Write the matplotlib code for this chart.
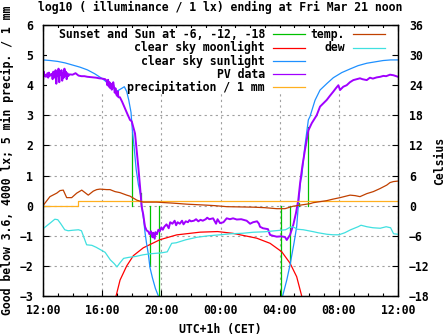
import numpy as np
import matplotlib
matplotlib.use("Agg")
import matplotlib.pyplot as plt
from matplotlib.patches import Rectangle

# hours after 12:00 (Fri Mar 20 noon -> Mar 21 noon)
tick_hours = [0, 4, 8, 12, 16, 20, 24]
tick_labels = ["12:00", "16:00", "20:00", "00:00", "04:00", "08:00", "12:00"]

# Sunset and Sun at -6, -12, -18 (line from 0 up/down to clear-sky value)
twilight_h = [6.04, 6.60, 7.23, 7.86, 16.09, 16.72, 17.34, 17.94]
twilight_v = [2.45, 0.42, -2.0, -3.5, -3.5, -1.9, 0.1, 2.6]

moon_h = [4.94, 5.21, 5.66, 6.11, 6.78, 7.91, 9.04, 10.62, 11.8, 12.85, 14.45,
          15.35, 16.14, 16.7, 17.15, 17.49, 17.6]
moon_v = [-3.0, -2.47, -2.0, -1.66, -1.4, -1.13, -0.97, -0.88, -0.86, -0.92, -1.08,
          -1.25, -1.53, -1.91, -2.36, -3.0, -3.3]

sun_h = [0, 0.5, 1, 1.5, 2, 2.5, 3, 3.5, 4, 4.5, 5, 5.5, 5.66, 5.8, 5.95, 6.04, 6.15,
         6.3, 6.45, 6.6, 6.67, 6.8, 6.9, 7.0, 7.12, 7.23, 7.4, 7.6, 7.8, 8.0,
         np.nan,
         16.0, 16.2, 16.48, 16.7, 16.97, 17.15, 17.26, 17.42, 17.49, 17.7, 17.94,
         18.05, 18.39, 18.73, 19.2, 19.63, 20.2, 20.76, 21.3, 21.89, 22.5, 23, 23.5, 24]
sun_v = [4.84, 4.82, 4.79, 4.74, 4.67, 4.6, 4.51, 4.38, 4.22, 4.03, 3.8, 3.95, 3.79,
         3.5, 3.1, 2.5, 2.0, 1.2, 0.7, 0.35, 0.0, -0.45, -0.9, -1.25, -1.6, -2.05, -2.4,
         -2.75, -3.0, -3.3,
         np.nan,
         -3.4, -3.0, -2.47, -1.97, -1.24, -0.7, 0.0, 0.85, 0.96, 1.96, 2.85,
         2.96, 3.5, 3.84, 4.06, 4.25, 4.42, 4.54, 4.65, 4.73, 4.78, 4.82, 4.84, 4.84]

pv_h = [0.0, 0.05, 0.1, 0.15, 0.2, 0.3, 0.35, 0.4, 0.45, 0.5, 0.6, 0.65, 0.7, 0.75,
        0.8, 0.85, 0.9, 0.95, 1.0, 1.05, 1.1, 1.15, 1.2, 1.25, 1.3, 1.35, 1.4, 1.45,
        1.5, 1.55, 1.6, 1.65, 1.7, 1.8, 2.0, 2.2, 2.4, 2.6, 2.8, 3.0, 3.2, 3.4, 3.6,
        3.8, 4.0, 4.2, 4.3, 4.35, 4.4, 4.45, 4.5, 4.55, 4.6, 4.65, 4.7, 4.75, 4.8,
        4.85, 4.9, 4.95, 5.0, 5.05, 5.1, 5.2, 5.35, 5.54, 5.7, 5.88, 6.0, 6.22,
        6.33, 6.44, 6.56, 6.67, 6.78, 6.85, 6.9, 7.0, 7.12, 7.2, 7.3, 7.4, 7.45,
        7.55, 7.6, 7.7, 7.8, 7.9, 8.0, 8.1, 8.2, 8.35, 8.5, 8.6, 8.75, 8.9, 9.0,
        9.1, 9.25, 9.4, 9.5, 9.65, 9.8, 9.9, 10.0, 10.2, 10.35, 10.5, 10.65, 10.8,
        11.0, 11.1, 11.25, 11.5, 11.7, 11.8, 11.97, 12.2, 12.42, 12.64, 12.85,
        13.1, 13.4, 13.77, 14.0, 14.2, 14.47, 14.6, 14.67, 14.87, 15.21, 15.35,
        15.55, 15.8, 16.1, 16.36, 16.48, 16.7, 16.92, 17.1, 17.26, 17.38, 17.53,
        17.71, 17.94, 18.17, 18.5, 18.73, 18.95, 19.18, 19.4, 19.63, 19.8, 19.97,
        20.08, 20.3, 20.53, 20.75, 20.98, 21.2, 21.43, 21.6, 21.89, 22.1, 22.3,
        22.56, 22.8, 23.01, 23.2, 23.46, 23.7, 24.0]
pv_v = [4.15, 4.45, 4.3, 4.35, 4.28, 4.4, 4.25, 4.42, 4.3, 4.35, 4.38, 4.2, 4.45, 4.3,
        4.25, 4.5, 4.05, 4.4, 4.3, 4.55, 4.1, 4.45, 4.35, 4.5, 4.15, 4.4, 4.25, 4.55,
        4.3, 4.45, 4.2, 4.4, 4.3, 4.36, 4.35, 4.4, 4.32, 4.3, 4.3, 4.28, 4.27, 4.26,
        4.25, 4.23, 4.22, 4.2, 4.15, 4.0, 4.18, 3.95, 4.1, 3.9, 4.05, 3.85, 4.0,
        4.1, 3.95, 3.75, 3.9, 3.7, 3.65, 3.8, 3.6, 3.6, 3.45, 3.23, 3.05, 2.85, 2.8,
        2.4, 1.85, 1.3, 0.63, -0.03, -0.3, -0.55, -0.7, -0.82, -0.86, -0.95, -0.85,
        -1.05, -0.9, -1.1, -0.88, -0.95, -0.8, -0.85, -0.72, -0.8, -0.7, -0.62,
        -0.75, -0.55, -0.6, -0.5, -0.65, -0.55, -0.6, -0.5, -0.62, -0.52, -0.55,
        -0.48, -0.52, -0.5, -0.45, -0.52, -0.47, -0.5, -0.45, -0.4, -0.45, -0.42,
        -0.6, -0.45, -0.58, -0.55, -0.42, -0.45, -0.42, -0.46, -0.45, -0.5, -0.6,
        -0.55, -0.52, -0.6, -0.7, -0.75, -0.78, -0.97, -1.0, -1.03, -1.02, -1.04,
        -1.14, -0.97, -0.64, -0.25, 0.19, 0.74, 1.3, 1.85, 2.5, 2.74, 3.0, 3.29,
        3.4, 3.51, 3.65, 3.79, 3.9, 4.0, 3.84, 3.95, 4.0, 4.1, 4.17, 4.2, 4.23,
        4.2, 4.17, 4.25, 4.22, 4.26, 4.28, 4.31, 4.3, 4.35, 4.33, 4.28]

precip_h = [0, 2.37, 24]
precip_v = [0, 0.15, 0.15]

temp_h = [0, 0.47, 0.93, 1.15, 1.37, 1.6, 1.94, 2.28, 2.62, 2.84, 3.06, 3.4, 3.63,
          3.85, 4.31, 4.53, 4.87, 5.2, 5.66, 5.88, 6.34, 6.67, 6.78, 7.69, 8.25,
          8.81, 9.72, 11.07, 11.63, 12.42, 14.22, 15.0, 15.8, 16.36, 16.92, 17.38,
          18.05, 18.28, 19.18, 19.6, 20.08, 20.76, 21.1, 21.43, 21.89, 22.33, 22.78,
          23.24, 23.46, 23.69, 24.0]
temp_c = [0.0, 1.8, 2.5, 3.0, 3.1, 1.6, 1.6, 2.5, 3.1, 2.6, 2.1, 2.9, 3.2, 3.3, 3.2,
          3.2, 2.8, 2.6, 2.1, 1.9, 1.1, 0.8, 0.7, 0.7, 0.6, 0.5, 0.3, 0.1, 0.0, -0.2,
          -0.3, -0.4, -0.6, -0.6, -0.1, 0.1, 0.4, 0.6, 1.0, 1.3, 1.6, 2.1, 2.0, 1.8,
          2.4, 2.8, 3.4, 4.1, 4.6, 4.8, 4.9]

dew_h = [0, 0.47, 0.8, 1.0, 1.2, 1.47, 1.7, 2.0, 2.4, 2.6, 2.95, 3.3, 3.6, 3.9, 4.2,
         4.55, 4.8, 5.0, 5.2, 5.45, 5.8, 6.3, 6.75, 7.2, 8.0, 8.4, 8.7, 9.0, 9.65,
         10.4, 11.2, 12.0, 12.7, 13.5, 14.2, 15.0, 15.7, 16.4, 16.7, 16.9, 17.2, 17.6,
         18.3, 18.6, 19.2, 19.6, 20.0, 20.4, 20.8, 21.3, 21.5, 21.9, 22.3, 22.8, 23.2,
         23.5, 23.7, 24.0]
dew_c = [-4.6, -3.5, -2.7, -2.8, -3.6, -4.8, -5.0, -4.9, -4.8, -5.0, -7.8, -7.9, -8.3,
         -8.8, -9.3, -10.8, -11.5, -12.2, -11.4, -10.5, -10.3, -10.1, -9.8, -9.6, -9.4,
         -9.2, -7.5, -7.4, -6.8, -6.3, -6.0, -5.8, -5.6, -5.5, -5.3, -5.2, -5.0, -4.8,
         -4.3, -4.2, -4.7, -4.8, -5.2, -5.4, -5.7, -5.8, -5.8, -5.4, -4.8, -4.2, -3.9,
         -4.2, -4.4, -4.5, -4.2, -4.4, -5.6, -5.7]

plt.rcParams["font.family"] = "DejaVu Sans Mono"
plt.rcParams["font.weight"] = "bold"
plt.rcParams["font.size"] = 8.3
plt.rcParams["axes.titlesize"] = 8.3
plt.rcParams["axes.labelsize"] = 8.3
plt.rcParams["axes.titleweight"] = "bold"
plt.rcParams["axes.labelweight"] = "bold"

GREEN, RED, BLUE, PURPLE = "#00c000", "#ff0000", "#1e90ff", "#a000ff"
ORANGE, TEMP, DEW = "#ffb020", "#c04000", "#40e0e0"

fig = plt.figure(figsize=(4.47, 3.35), dpi=100)
ax = fig.add_axes([43 / 447, 39 / 335, 355 / 447, 271 / 335])
ax.set_xlim(0, 24); ax.set_ylim(-3, 6)
ax.set_axisbelow(True)
ax.grid(True, color="#a0a0a0", linestyle=(0, (2, 3)), linewidth=0.8)
ax.add_patch(Rectangle((0.01, 0.75), 0.98, 0.24, transform=ax.transAxes,
                       facecolor="white", edgecolor="none", zorder=1))

for h, v in zip(twilight_h, twilight_v):
    ax.plot([h, h], [0, v], color=GREEN, lw=0.9, zorder=2)
ax.plot(moon_h, moon_v, color=RED, lw=0.9, zorder=2)
ax.plot(sun_h, sun_v, color=BLUE, lw=0.9, zorder=2)
ax.plot(pv_h, pv_v, color=PURPLE, lw=1.4, zorder=2)
ax.step(precip_h, precip_v, where="post", color=ORANGE, lw=0.9, zorder=2)

ax.set_xticks(tick_hours)
ax.set_xticklabels(tick_labels)
ax.set_xticks(range(25), minor=True)
ax.set_yticks(range(-3, 7))
ax.tick_params(which="both", direction="in", top=True, right=False, length=4, width=0.8)
ax.tick_params(which="minor", length=2)
ax.tick_params(axis="y", pad=7)
ax.tick_params(axis="x", pad=6)
ax.set_xlabel("UTC+1h (CET)", labelpad=4)
ax.set_ylabel("Good below 3.6, 4000 lx; 5 min precip. / 1 mm")
ax.yaxis.set_label_coords(-0.082, 0.5)
ax.set_title("log10 ( illuminance / 1 lx) ending at Fri Mar 21 noon", pad=10)

ax2 = ax.twinx()
ax2.set_ylim(-18, 36)
ax2.set_yticks(range(-18, 37, 6))
ax2.plot(temp_h, temp_c, color=TEMP, lw=0.9)
ax2.plot(dew_h, dew_c, color=DEW, lw=0.9)
ax2.tick_params(direction="in", length=4, width=0.8, pad=8)
ax2.set_ylabel("Celsius")
ax2.yaxis.set_label_coords(1.10, 0.5)
for a in (ax, ax2):
    for s in a.spines.values():
        s.set_linewidth(0.9)

# key, gnuplot style: right-aligned text then line sample
left_key = [("Sunset and Sun at -6, -12, -18", GREEN), ("clear sky moonlight", RED),
            ("clear sky sunlight", BLUE), ("PV data", PURPLE),
            ("precipitation / 1 mm", ORANGE)]
right_key = [("temp.", TEMP), ("dew", DEW)]
rows = [0.965, 0.916, 0.867, 0.819, 0.770]
for (txt, c), y in zip(left_key, rows):
    ax2.text(0.625, y, txt, transform=ax.transAxes, ha="right", va="center")
    ax2.plot([0.648, 0.738], [y, y], color=c, lw=0.9, transform=ax.transAxes)
for (txt, c), y in zip(right_key, rows):
    ax2.text(0.851, y, txt, transform=ax.transAxes, ha="right", va="center")
    ax2.plot([0.873, 0.963], [y, y], color=c, lw=0.9, transform=ax.transAxes)

fig.savefig("out.png", dpi=100)
